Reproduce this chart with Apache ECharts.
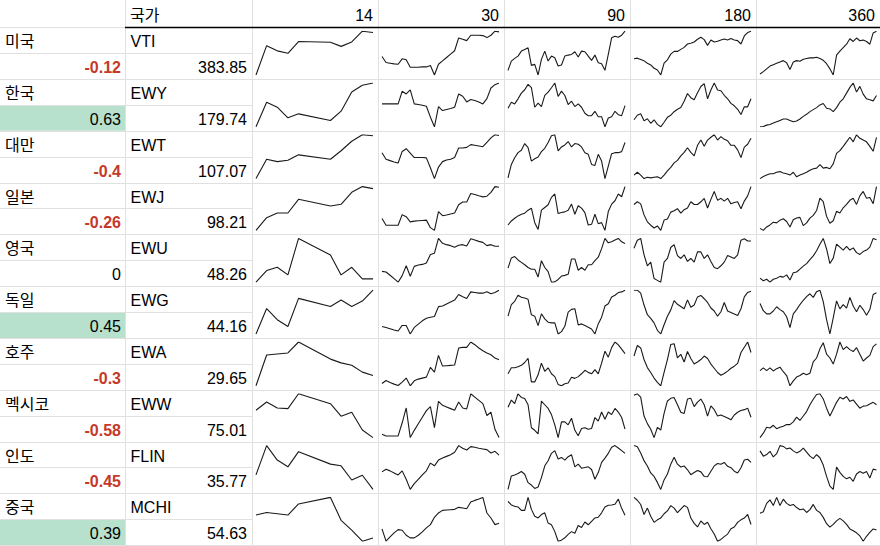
<!DOCTYPE html>
<html>
<head>
<meta charset="utf-8">
<script src="https://cdn.jsdelivr.net/npm/echarts/dist/echarts.min.js"></script>
<style>
html,body{margin:0;padding:0;background:#fff;}
#main{width:880px;height:546px;}
</style>
</head>
<body>
<div id="main"></div>
<script>
const countries = ['미국','한국','대만','일본','영국','독일','호주','멕시코','인도','중국'];
const tickers = ['VTI','EWY','EWT','EWJ','EWU','EWG','EWA','EWW','FLIN','MCHI'];
const prices = [383.85, 179.74, 107.07, 98.21, 48.26, 44.16, 29.65, 75.01, 35.77, 54.63];
const changes = [-0.12, 0.63, -0.4, -0.26, 0, 0.45, -0.3, -0.58, -0.45, 0.39];
const headerLabel = '국가';
const horizons = ['14','30','90','180','360'];

const spark14 = [
[22,107,92,85,119,null,null,117,105,118,149,145],
[18,92,77,45,57,null,null,37,65,123,143,150],
[18,75,68,72,88,null,null,75,100,128,147,144],
[17,55,69,69,110,null,null,90,95,131,148,142],
[15,50,60,37,147,null,null,97,37,60,25,25],
[15,90,57,37,120,null,null,96,115,96,112,144],
[15,105,108,111,143,null,null,93,82,75,55,45],
[93,118,100,98,143,null,null,113,75,87,33,10],
[53,140,97,77,122,null,null,85,80,38,52,10],
[88,96,92,88,122,null,null,142,72,42,8,18]
];
const spark30 = [
[75,57,55,53,52,68,65,43,43,43,44,44,48,20,52,62,72,82,92,130,126,122,138,138,138,137,131,138,150,148],
[87,87,87,87,87,125,117,129,87,85,83,80,47,18,79,67,70,73,77,117,110,93,100,97,93,87,103,135,145,150],
[94,75,71,67,64,98,106,93,80,80,80,79,50,18,52,68,73,75,80,108,108,110,118,116,114,112,125,138,147,145],
[52,32,32,32,32,63,57,42,44,45,46,47,25,17,72,60,62,65,68,92,100,100,125,122,118,115,117,128,145,143],
[47,45,35,25,14,34,64,32,62,66,68,72,98,102,147,132,128,125,120,126,128,124,146,142,138,135,125,128,123,123],
[35,32,28,24,21,38,38,12,32,42,52,60,63,65,95,97,103,109,115,132,125,120,140,138,136,136,140,134,138,145],
[19,28,22,17,13,23,35,12,27,32,35,38,67,53,103,71,72,73,74,125,127,127,143,135,125,117,110,105,95,90],
[20,15,15,15,15,55,100,10,32,52,72,92,104,40,120,108,103,98,93,118,100,97,143,133,123,113,77,87,35,10],
[62,70,65,59,53,65,40,10,27,40,53,65,88,80,97,103,108,113,120,140,132,127,137,135,132,130,128,118,123,112],
[47,10,23,35,45,43,28,20,20,28,38,50,60,82,95,103,104,105,106,112,110,108,128,133,137,142,95,80,60,64]
];
const spark90 = [
[32,60,68,75,90,95,100,47,50,18,65,90,60,75,70,45,48,75,78,80,88,72,90,88,75,62,78,55,52,32,80,130,135,132,138,150],
[72,90,85,100,117,127,143,133,75,87,77,110,120,133,147,107,123,110,83,93,77,85,75,57,50,50,63,47,47,17,43,47,63,53,50,80],
[20,60,80,95,102,122,110,70,77,82,98,108,125,145,148,100,112,118,128,112,122,120,112,95,90,60,57,90,70,18,55,92,95,95,98,125],
[33,45,53,60,65,68,77,83,40,20,77,85,93,115,125,67,70,72,77,95,65,90,83,70,33,35,65,37,40,17,73,95,105,125,117,147],
[58,88,92,82,75,68,60,55,55,32,80,60,48,17,18,25,35,37,40,85,85,52,60,52,68,68,80,90,115,145,132,135,140,145,135,130],
[68,102,112,130,124,122,118,72,68,40,75,60,50,48,48,15,22,38,80,88,90,42,45,40,35,30,15,45,65,98,105,125,130,138,140,145],
[53,70,70,73,77,85,97,30,30,50,83,60,70,53,45,23,19,25,27,43,40,45,53,63,57,53,65,53,83,117,100,127,143,135,123,110],
[98,118,108,135,125,122,105,42,35,25,115,105,95,78,50,15,58,58,50,68,35,20,40,42,38,40,70,60,85,65,85,78,95,85,70,38],
[10,50,53,57,63,55,30,23,13,17,45,80,95,117,125,100,105,97,107,113,77,85,73,75,77,69,40,60,90,103,117,135,140,133,125,117],
[128,118,114,112,102,102,140,105,85,80,90,95,65,60,40,12,15,22,32,40,35,58,52,68,60,70,80,82,95,112,117,118,120,135,108,88]
];
const spark180 = [
[68,70,66,62,55,50,40,35,20,55,65,82,90,90,96,102,112,114,118,126,132,125,108,124,118,120,124,127,124,128,124,122,112,136,146,150],
[40,53,57,37,43,30,40,27,20,33,47,53,63,70,75,93,115,103,97,117,135,143,100,125,145,125,123,110,100,87,80,70,55,77,77,100],
[30,38,30,20,24,22,24,25,20,30,42,52,65,72,85,95,108,95,85,115,130,112,130,138,145,130,140,132,128,115,115,102,80,110,118,135],
[95,103,97,65,45,35,27,33,20,50,53,73,77,83,70,80,85,103,95,95,103,113,85,110,133,107,113,105,113,97,101,103,83,105,120,147],
[118,140,145,100,70,80,35,30,25,80,90,120,128,98,90,100,82,90,80,108,108,90,100,82,65,62,70,80,98,94,90,100,140,144,138,138],
[138,138,130,98,72,62,50,30,20,45,68,85,110,100,94,88,112,92,98,120,124,115,105,90,82,68,80,105,82,78,74,70,88,120,132,135],
[100,130,123,90,67,53,37,25,15,53,90,133,135,95,105,83,113,93,77,83,90,100,93,77,65,53,45,50,57,65,71,79,110,125,140,110],
[130,134,125,75,55,40,18,45,38,82,115,122,124,105,85,82,120,122,100,112,120,105,75,102,92,75,78,74,70,65,78,85,90,92,96,72],
[138,135,117,95,80,60,50,33,13,40,57,85,105,85,77,80,69,55,61,67,63,50,49,65,80,87,85,90,79,75,65,60,75,97,99,90],
[138,130,118,90,108,85,68,75,80,92,100,115,108,95,105,115,110,80,65,55,72,62,68,50,35,15,20,28,35,50,55,68,75,80,90,62]
];
const spark360 = [
[25,32,40,48,52,56,60,64,58,38,60,64,62,68,70,72,72,74,70,65,55,40,22,80,92,102,112,128,120,130,122,124,120,112,145,150],
[20,21,25,27,31,35,39,43,43,39,35,37,43,51,57,65,71,77,85,89,75,73,65,77,93,103,120,137,150,123,140,117,103,100,97,113],
[20,26,30,34,34,38,40,36,34,30,38,25,30,34,38,44,48,50,60,50,52,48,62,92,100,112,125,138,125,145,135,130,125,112,98,138],
[25,19,29,35,43,41,49,53,45,29,50,55,57,33,41,55,63,77,113,103,60,40,47,75,70,85,95,107,113,95,120,133,113,115,97,147],
[35,28,32,24,32,35,40,38,44,30,50,52,60,68,75,86,96,110,128,144,115,75,90,128,120,112,122,112,118,105,100,108,112,120,144,140],
[105,85,76,76,84,96,88,82,68,38,76,88,102,114,124,132,122,138,142,110,60,20,65,112,90,102,92,122,98,82,100,88,72,88,130,135],
[60,67,60,67,59,65,69,57,47,20,33,43,47,53,49,53,83,93,117,133,103,93,77,103,135,115,123,115,110,120,103,85,93,100,123,130],
[12,25,42,40,48,38,42,45,50,50,58,72,62,75,88,108,124,138,140,125,98,75,95,115,130,125,132,118,122,110,98,104,105,110,115,108],
[120,107,111,119,105,113,133,131,125,127,120,115,119,127,117,107,101,111,103,85,57,33,25,80,67,57,51,55,45,63,69,65,69,53,75,73],
[90,94,118,128,112,135,112,130,118,112,115,106,100,102,92,100,115,98,92,78,60,50,58,68,75,68,58,45,40,34,25,10,24,35,45,42]
];

const chart = echarts.init(document.getElementById('main'), null, {renderer: 'svg', width: 880, height: 546});
const colX = [0, 125, 252, 378, 504, 630, 756, 880];
const TOP = 27.2, ROW = 51.8, SUB = 25.9;
const FONT = '"Liberation Sans", Arial, "Noto Sans CJK KR", sans-serif';
const GRIDC = '#e0e0e0';

const sparks = [spark14, spark30, spark90, spark180, spark360];
const grids = [], xAxes = [], yAxes = [], series = [];
sparks.forEach((set, c) => {
  set.forEach((vals, r) => {
    const idx = grids.length;
    const x0 = colX[c + 2], x1 = colX[c + 3];
    const rp = c === 4 ? 3.5 : 5;
    grids.push({left: x0 + 4, top: TOP + r * ROW + 4, width: x1 - x0 - 4 - rp, height: ROW - 8});
    xAxes.push({type: 'category', gridIndex: idx, show: false, boundaryGap: false, data: vals.map((_, i) => i)});
    yAxes.push({type: 'value', gridIndex: idx, show: false, min: 'dataMin', max: 'dataMax'});
    series.push({type: 'line', xAxisIndex: idx, yAxisIndex: idx, data: vals, showSymbol: false, symbol: 'none',
      connectNulls: true, silent: true, animation: false, lineStyle: {color: '#1a1a1a', width: 1.1}});
  });
});

const g = [];
function line(x1, y1, x2, y2, color, w) {
  g.push({type: 'line', z: 5, silent: true, shape: {x1, y1, x2, y2}, style: {stroke: color, lineWidth: w || 1}});
}
function txt(s, x, y, align, extra) {
  g.push({type: 'text', z: 10, silent: true, style: Object.assign({
    text: s, x, y, font: '16px ' + FONT, fill: '#000',
    textAlign: align, align: align, textVerticalAlign: 'middle', verticalAlign: 'middle'
  }, extra || {})});
}

// green backgrounds for positive changes
changes.forEach((v, r) => {
  if (v > 0) {
    g.push({type: 'rect', z: 1, silent: true, shape: {x: 0, y: TOP + r * ROW + SUB, width: 125, height: SUB}, style: {fill: '#b7e1cd'}});
  }
});

// vertical gridlines
for (let i = 1; i < colX.length - 1; i++) {
  const x = colX[i] + 0.5;
  line(x, 0, x, 546, GRIDC, 1);
}
// horizontal gridlines
for (let r = 0; r < countries.length; r++) {
  const top = TOP + r * ROW;
  const mid = Math.round(top + SUB) + 0.5;
  const bot = Math.round(top + ROW) + 0.5;
  line(0, mid, 252, mid, GRIDC, 1);
  line(0, bot, 880, bot, GRIDC, 1);
}
const hy = Math.round(TOP) + 0.5;
line(0, hy, 125, hy, GRIDC, 1);
line(125, hy, 880, hy, '#000', 1.5);

// header texts
txt(headerLabel, 130, TOP - 11.5, 'left');
horizons.forEach((h, c) => txt(h, colX[c + 3] - 5, TOP - 11.5, 'right'));

// row texts
countries.forEach((name, r) => {
  const top = TOP + r * ROW;
  const y1 = top + SUB - 11.5, y2 = top + ROW - 11.5;
  txt(name, 5, y1, 'left');
  txt(tickers[r], 130.5, y1, 'left');
  const v = changes[r];
  if (v < 0) {
    txt(String(v), 121, y2, 'right', {fill: '#c53929', font: 'bold 16px ' + FONT});
  } else {
    txt(String(v), 121, y2, 'right');
  }
  txt(prices[r].toFixed(2), 247, y2, 'right');
});

chart.setOption({
  backgroundColor: '#fff',
  animation: false,
  grid: grids,
  xAxis: xAxes,
  yAxis: yAxes,
  series: series,
  graphic: {elements: g}
});
</script>
</body>
</html>
